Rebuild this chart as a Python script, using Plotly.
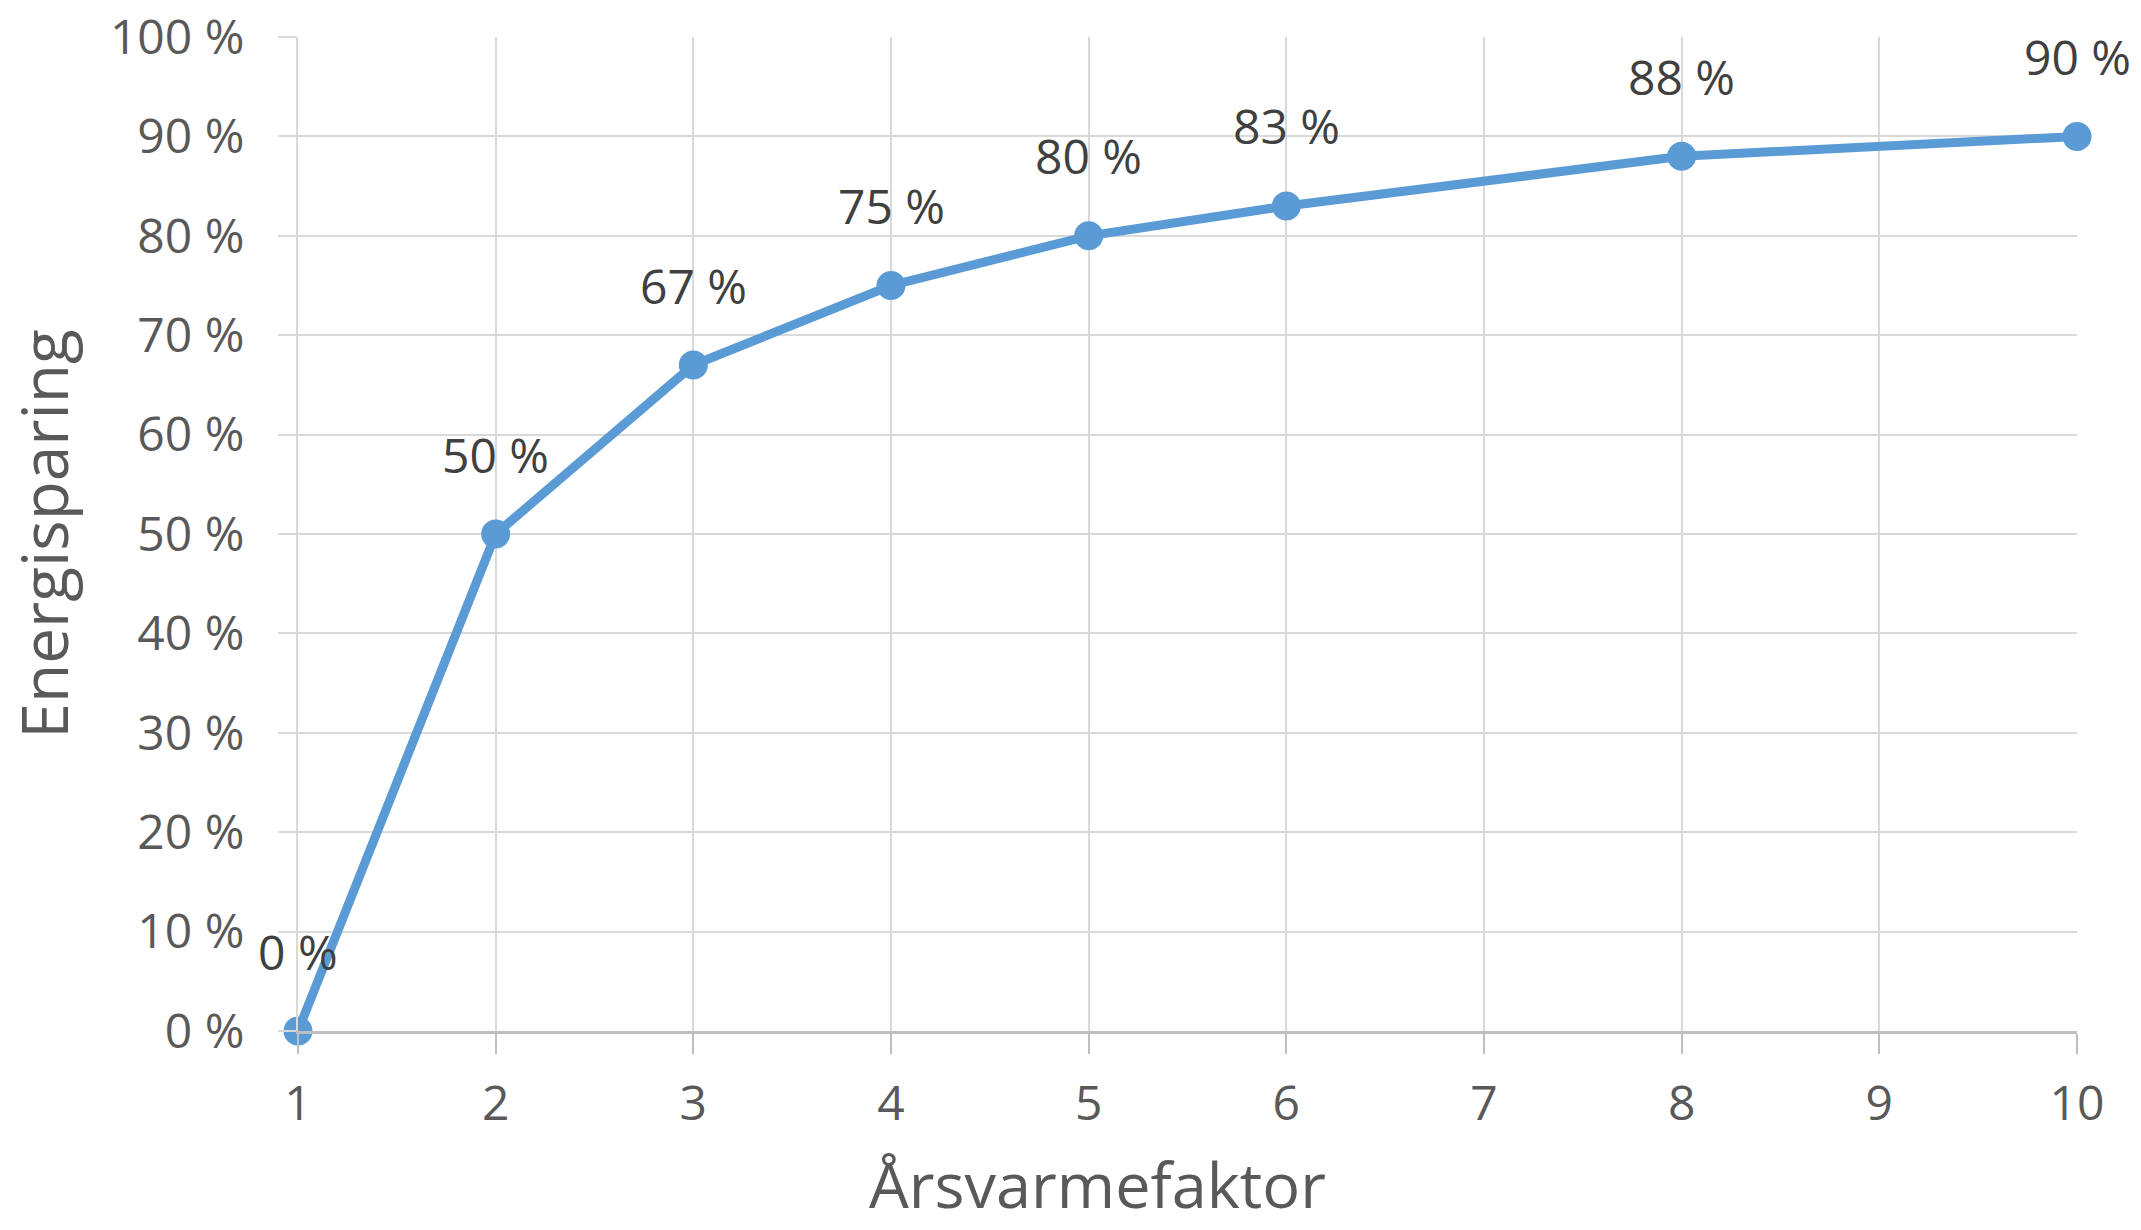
import plotly.graph_objects as go

# Data
arsvarmefaktor = [1, 2, 3, 4, 5, 6, 8, 10]
energisparing = [0, 50, 67, 75, 80, 83, 88, 90]
label_texts = [f"{v} %" for v in energisparing]

x_ticks = [1, 2, 3, 4, 5, 6, 7, 8, 9, 10]
y_ticks = [0, 10, 20, 30, 40, 50, 60, 70, 80, 90, 100]
y_tick_labels = [f"{v} %" for v in y_ticks]

FONT = "Open Sans"
LINE_COLOR = "#5b9bd5"
GRID = "#d9d9d9"
AXIS = "#bfbfbf"
TEXT = "#595959"

fig = go.Figure()
fig.add_trace(go.Scatter(
    x=arsvarmefaktor, y=energisparing,
    mode="lines+markers",
    line=dict(color=LINE_COLOR, width=9),
    marker=dict(color=LINE_COLOR, size=29),
    cliponaxis=False,
    showlegend=False,
    hoverinfo="skip",
))

annotations = []
for xv, yv, t in zip(arsvarmefaktor, energisparing, label_texts):
    annotations.append(dict(
        x=xv, y=yv, xref="x", yref="y", text=t, showarrow=False,
        yshift=80, xanchor="center", yanchor="middle",
        font=dict(family=FONT, size=48, color="#404040"),
    ))

annotations.append(dict(
    x=(1097 - 298) / (2077 - 298), y=-(1183 - 1031) / (1031 - 37),
    xref="paper", yref="paper", text="Årsvarmefaktor",
    showarrow=False, xanchor="center", yanchor="middle",
    font=dict(family=FONT, size=63, color=TEXT),
))

fig.update_layout(
    width=2141, height=1230,
    margin=dict(l=298, r=64, t=37, b=199),
    paper_bgcolor="white", plot_bgcolor="white",
    font=dict(family=FONT, color=TEXT),
    annotations=annotations,
    xaxis=dict(
        range=[1, 10], tickvals=x_ticks, ticktext=[str(v) for v in x_ticks],
        showgrid=True, gridcolor=GRID, gridwidth=2,
        showline=True, linecolor=AXIS, linewidth=3,
        ticks="outside", ticklen=20, tickwidth=2, tickcolor=AXIS,
        tickfont=dict(family=FONT, size=48, color=TEXT),
        ticklabelstandoff=8,
        zeroline=False, automargin=False,
    ),
    yaxis=dict(
        range=[0, 100], tickvals=y_ticks, ticktext=y_tick_labels,
        showgrid=True, gridcolor=GRID, gridwidth=2,
        showline=True, linecolor=GRID, linewidth=2,
        ticks="outside", ticklen=18, tickwidth=2, tickcolor=GRID,
        tickfont=dict(family=FONT, size=48, color=TEXT),
        ticklabelstandoff=24,
        zeroline=False, automargin=False,
        title=dict(text="Energisparing", font=dict(family=FONT, size=64, color=TEXT), standoff=30),
    ),
)

fig.write_html("out.html", post_script="document.body.style.margin='0';",
               config={"displayModeBar": False})
